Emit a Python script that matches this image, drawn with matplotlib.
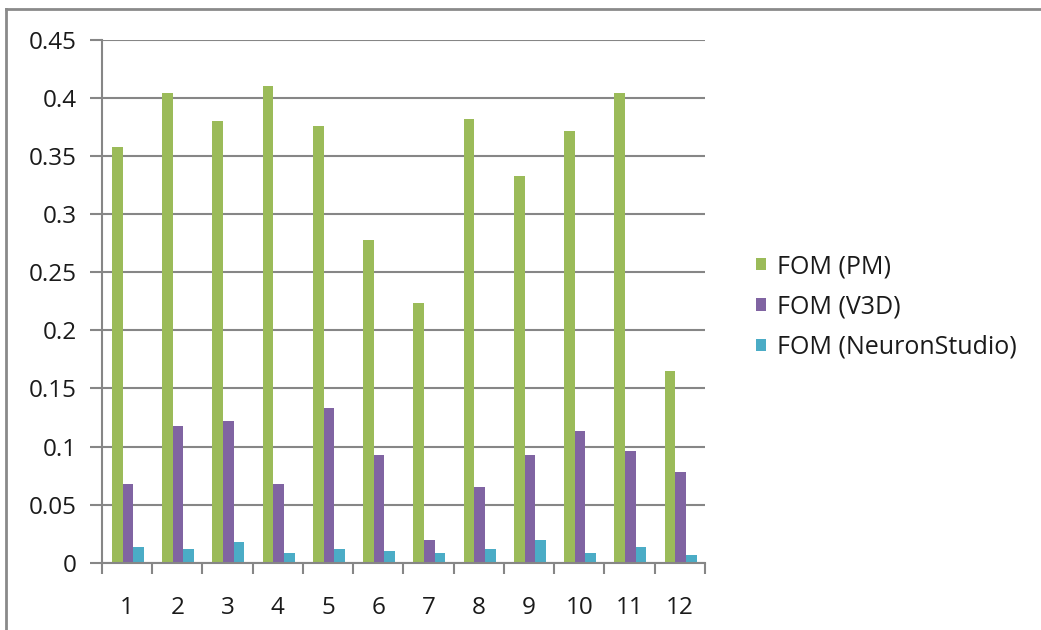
import matplotlib
matplotlib.use("Agg")
import matplotlib.pyplot as plt
import numpy as np
from matplotlib.patches import Patch
from matplotlib.lines import Line2D

categories = ["1", "2", "3", "4", "5", "6", "7", "8", "9", "10", "11", "12"]
fom_pm = [0.358, 0.404, 0.380, 0.410, 0.376, 0.278, 0.224, 0.382, 0.333, 0.372, 0.404, 0.165]
fom_v3d = [0.068, 0.118, 0.122, 0.068, 0.133, 0.093, 0.0195, 0.065, 0.093, 0.113, 0.096, 0.078]
fom_ns = [0.0138, 0.012, 0.0175, 0.0083, 0.012, 0.0103, 0.0083, 0.012, 0.0195, 0.0083, 0.0138, 0.0066]
series_labels = ["FOM (PM)", "FOM (V3D)", "FOM (NeuronStudio)"]
y_ticks = [0, 0.05, 0.1, 0.15, 0.2, 0.25, 0.3, 0.35, 0.4, 0.45]
y_tick_labels = ["0", "0.05", "0.1", "0.15", "0.2", "0.25", "0.3", "0.35", "0.4", "0.45"]

colors = ["#9BBB59", "#8064A2", "#4BACC6"]
grid_color = "#868686"
text_color = "#1a1a1a"

plt.rcParams["font.family"] = ["Open Sans", "DejaVu Sans"]

W, H = 1041, 630
fig = plt.figure(figsize=(W / 100, H / 100), dpi=100)
fig.patch.set_facecolor("white")

ax = fig.add_axes([102 / W, 1 - 562.7 / H, (705 - 102) / W, (562.7 - 40) / H])

x = np.arange(len(categories))
bw = 0.211
for i, (vals, c) in enumerate(zip([fom_pm, fom_v3d, fom_ns], colors)):
    ax.bar(x + (i - 1) * bw + 0.015, vals, width=bw, color=c, linewidth=0, zorder=3)

ax.set_xlim(-0.5, len(categories) - 0.5)
ax.set_ylim(0, 0.45)

ax.set_yticks(y_ticks)
ax.set_yticklabels(y_tick_labels)
ax.yaxis.grid(True, color=grid_color, linewidth=1.5, zorder=1)
ax.set_axisbelow(True)

# Category labels centred, tick marks on the category boundaries
ax.set_xticks(x)
ax.set_xticklabels(categories)
ax.tick_params(axis="x", length=0, pad=24, labelsize=17.5, labelcolor=text_color)
ax.set_xticks(np.arange(-0.5, len(categories), 1.0), minor=True)
ax.tick_params(axis="x", which="minor", length=8, width=1.5, color=grid_color, direction="out")
ax.tick_params(axis="y", length=9, width=1.5, color=grid_color, direction="out",
               pad=9, labelsize=17.5, labelcolor=text_color)

for s in ["top", "right"]:
    ax.spines[s].set_visible(False)
for s in ["left", "bottom"]:
    ax.spines[s].set_color(grid_color)
    ax.spines[s].set_linewidth(1.5)
    ax.spines[s].set_zorder(4)

handles = [Patch(facecolor=c, edgecolor="none") for c in colors]
fig.legend(handles, series_labels, loc="center left",
           bbox_to_anchor=(733 / W, 1 - 307 / H), frameon=False,
           fontsize=18, handlelength=0.4, handleheight=0.4,
           handletextpad=0.45, labelspacing=0.62, labelcolor=text_color)

# Chart-area border (top and left edges)
fig.add_artist(Line2D([6 / W, 1], [1 - 9 / H, 1 - 9 / H], transform=fig.transFigure,
                      color="#8a8a8a", linewidth=2))
fig.add_artist(Line2D([6 / W, 6 / W], [0, 1 - 9 / H], transform=fig.transFigure,
                      color="#8a8a8a", linewidth=2))

fig.savefig("out.png", dpi=100, facecolor="white")
